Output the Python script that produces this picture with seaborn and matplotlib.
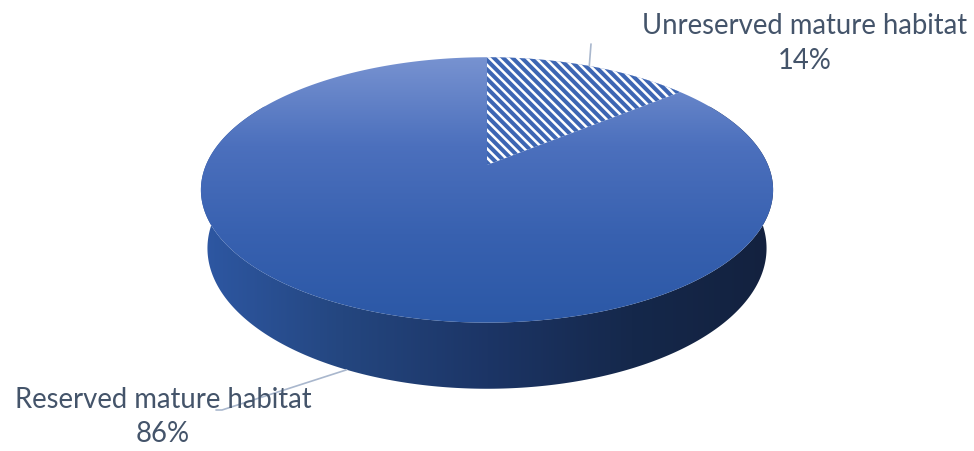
import numpy as np
import matplotlib.pyplot as plt
import seaborn as sns
from matplotlib.patches import Polygon
from matplotlib.colors import LinearSegmentedColormap

# data
labels = ['Unreserved mature habitat', 'Reserved mature habitat']
shares = [14, 86]

sns.set_theme(style='white')
plt.rcParams['font.family'] = ['Lato', 'DejaVu Sans']

fig = plt.figure(figsize=(9.74, 4.51), dpi=100)
ax = fig.add_axes([0, 0, 1, 1])

# 3D look: camera tilt, distance, disc thickness (in radius units)
ELEV = np.radians(27.1)
DIST = 4.74
THICK = 0.235
SCALE = 281
CX, CY = 487, 165


def proj(phi, h):
    x = np.sin(phi)
    z = np.cos(phi)
    yv = h * np.cos(ELEV) + z * np.sin(ELEV)
    zv = -h * np.sin(ELEV) + z * np.cos(ELEV)
    f = DIST / (DIST + zv)
    return CX + SCALE * x * f, CY - SCALE * yv * f


# slice angles, clockwise from 12 o'clock
frac = np.array(shares) / sum(shares)
edges = np.concatenate([[0], np.cumsum(frac)]) * 2 * np.pi
mids = (edges[:-1] + edges[1:]) / 2

# side wall: front half outline filled with a left-right gradient
front = np.linspace(np.radians(60), np.radians(300), 300)
ux, uy = proj(front, 0)
lx, ly = proj(front[::-1], -THICK)
side = Polygon(np.column_stack([np.r_[ux, lx], np.r_[uy, ly]]), closed=True,
               facecolor='none', edgecolor='none')
ax.add_patch(side)
side_cmap = LinearSegmentedColormap.from_list('side', ['#2e58a4', '#24467f', '#1c3566', '#15284b', '#13213e'])
hgrad = np.linspace(0, 1, 256).reshape(1, -1)
im_side = ax.imshow(hgrad, cmap=side_cmap, aspect='auto', zorder=1,
                    extent=[CX - SCALE * 1.03, CX + SCALE * 1.03, ly.max() + 2, uy.min() - 2])
im_side.set_clip_path(side)

# top face with vertical gradient
ring = np.linspace(0, 2 * np.pi, 400)
tx, ty = proj(ring, 0)
top = Polygon(np.column_stack([tx, ty]), closed=True, facecolor='none', edgecolor='none')
ax.add_patch(top)
top_cmap = LinearSegmentedColormap.from_list('top', ['#7893d1', '#4c70bd', '#3861b0', '#2b58a6'])
vgrad = np.linspace(0, 1, 256).reshape(-1, 1)
im_top = ax.imshow(vgrad, cmap=top_cmap, aspect='auto', origin='upper', zorder=2,
                   extent=[tx.min() - 2, tx.max() + 2, ty.max() + 1, ty.min() - 1])
im_top.set_clip_path(top)

# hatched slice: white wedge with diagonal blue stripes
arc = np.linspace(edges[0], edges[1], 80)
wx, wy = proj(arc, 0)
wedge = Polygon(np.vstack([[CX, CY], np.column_stack([wx, wy])]), closed=True,
                facecolor='white', edgecolor='none', zorder=3)
ax.add_patch(wedge)
period = 9.3
for c in np.arange(-700, 400, period):
    xs = np.array([CX - 20, CX + 260])
    ln, = ax.plot(xs, xs - CX + CY + c, color='#3d66b3', lw=2.9, zorder=4, solid_capstyle='butt')
    ln.set_clip_path(wedge)

# leader lines and labels
line_col = '#a9b7cd'
sx, sy = proj(mids[0], 0)
ax.plot([sx, 591], [sy, 44], color=line_col, lw=1.2, zorder=5)
sx, sy = proj(mids[1], -THICK)
ax.plot([sx, 222, 216], [sy, 410, 410], color=line_col, lw=1.2, zorder=5)

txt_col = '#44546a'
fs = 19.8
ax.text(805, 26, labels[0], ha='center', va='center', fontsize=fs, color=txt_col, zorder=6)
ax.text(805, 61, f'{shares[0]}%', ha='center', va='center', fontsize=fs, color=txt_col, zorder=6)
ax.text(163, 400, labels[1], ha='center', va='center', fontsize=fs, color=txt_col, zorder=6)
ax.text(163, 434, f'{shares[1]}%', ha='center', va='center', fontsize=fs, color=txt_col, zorder=6)

ax.set_xlim(0, 974)
ax.set_ylim(451, 0)
ax.axis('off')
fig.savefig('out.png', dpi=100)
